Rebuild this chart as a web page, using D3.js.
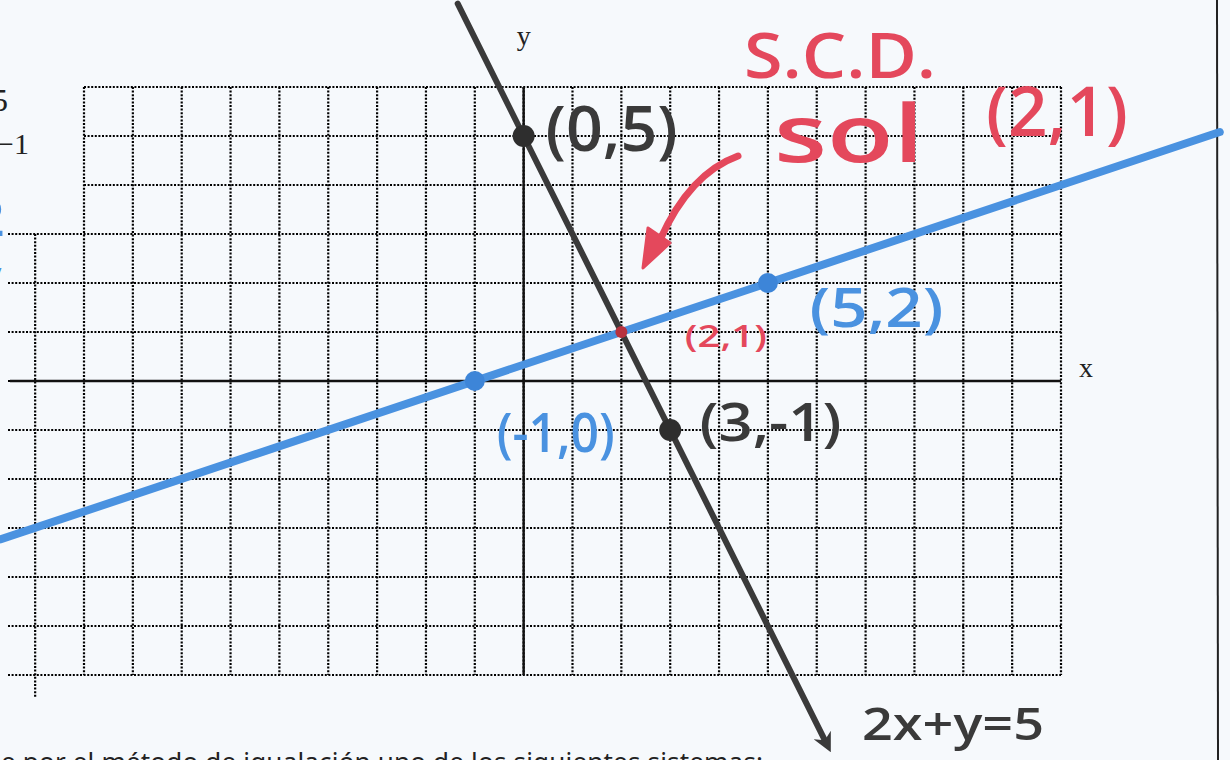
<!DOCTYPE html>
<html lang="es">
<head>
<meta charset="utf-8"/>
<style>
body { margin: 0; background: #f6f9fc; }
svg { display: block; }
.hand { font-family: "Open Sans", sans-serif; font-weight: 600; }
.serif { font-family: "Liberation Serif", "DejaVu Serif", serif; fill: #222; }
</style>
</head>
<body>
<svg width="1230" height="760"></svg>
<script src="https://d3js.org/d3.v7.min.js"></script>
<script>

// grid range (units)
var xMin = -9, xMax = 11, yMin = -6, yMax = 6;

// 2x + y = 5 (black) and the line through (-1,0),(5,2) (blue)
var blackLine = [[-1.35, 7.7], [6.2, -7.4]];
var blueLine = [[-10.7, -3.23], [14.25, 5.08]];
var blackPoints = [[0, 5], [3, -1]];
var bluePoints = [[-1, 0], [5, 2]];
var solution = [2, 1];

var blackLabels = ["(0,5)", "(3,-1)"];
var blueLabels = ["(-1,0)", "(5,2)"];

var svg = d3.select("svg");

var x = d3.scaleLinear().domain([xMin, xMax]).range([84, 1061]);
var y = d3.scaleLinear().domain([yMin, yMax]).range([675, 87]);

var ink = "#3a3a3a", blue = "#4a92e0", red = "#e4485c";

// ---- dotted grid
var grid = svg.append("g")
  .attr("stroke", "#000")
  .attr("stroke-width", 2.2)
  .attr("stroke-dasharray", "2,1.6");

var xs = d3.range(xMin, xMax + 1), ys = d3.range(yMin, yMax + 1);

grid.selectAll(".v").data(xs).enter().append("line")
  .attr("x1", x).attr("x2", x)
  .attr("y1", y(yMax)).attr("y2", y(yMin));

grid.selectAll(".h").data(ys).enter().append("line")
  // the lower rows run on into a second sheet at the left edge
  .attr("x1", function(d) { return d <= 3 ? 8 : x(xMin); })
  .attr("x2", x(xMax))
  .attr("y1", y).attr("y2", y);

// the stray column at the left edge
grid.append("line")
  .attr("x1", x(-10)).attr("x2", x(-10))
  .attr("y1", y(3)).attr("y2", y(-6.47));

// ---- axes
svg.append("line")
  .attr("x1", 10).attr("x2", x(xMax))
  .attr("y1", y(0)).attr("y2", y(0))
  .attr("stroke", "#111").attr("stroke-width", 2.4);
svg.append("line")
  .attr("x1", x(0)).attr("x2", x(0))
  .attr("y1", y(yMax)).attr("y2", y(yMin))
  .attr("stroke", "#111").attr("stroke-width", 2.4);

svg.append("text").attr("class", "serif").attr("font-size", 28)
  .attr("x", x(0) - 7).attr("y", 45).text("y");
svg.append("text").attr("class", "serif").attr("font-size", 28)
  .attr("x", 1079).attr("y", 377).text("x");

// bits of the printed page around the grid
svg.append("text").attr("class", "serif").attr("font-size", 32)
  .attr("x", -8).attr("y", 111).text("5");
svg.append("text").attr("class", "serif").attr("font-size", 30)
  .attr("x", -3).attr("y", 154).text("−1");
svg.append("line")
  .attr("x1", 1217).attr("x2", 1218).attr("y1", 0).attr("y2", 760)
  .attr("stroke", "#222").attr("stroke-width", 2);
svg.append("text")
  .attr("font-family", "Noto Sans, sans-serif").attr("font-size", 26)
  .attr("fill", "#222")
  .attr("x", 1).attr("y", 771)
  .attr("textLength", 762)
  .text("e por el método de igualación uno de los siguientes sistemas:");

// blue scribbles cut off at the left margin
svg.append("text").attr("class", "hand").attr("font-size", 50)
  .attr("fill", blue).attr("x", -24).attr("y", 236).text("2");
svg.append("text").attr("class", "hand").attr("font-size", 40)
  .attr("fill", blue).attr("x", -20).attr("y", 290).text("y");

// ---- lines
var line = d3.line().x(function(d) { return x(d[0]); }).y(function(d) { return y(d[1]); });

svg.append("defs").append("marker")
  .attr("id", "arrow").attr("viewBox", "0 0 10 10")
  .attr("refX", 5).attr("refY", 5)
  .attr("markerWidth", 3.2).attr("markerHeight", 3.2)
  .attr("orient", "auto")
  .append("path").attr("d", "M0,0 L10,5 L0,10 L3,5 Z").attr("fill", ink);

svg.append("path").datum(blueLine)
  .attr("d", line).attr("fill", "none")
  .attr("stroke", blue).attr("stroke-width", 8).attr("stroke-linecap", "round");

svg.append("path").datum(blackLine)
  .attr("d", line).attr("fill", "none")
  .attr("stroke", ink).attr("stroke-width", 6).attr("stroke-linecap", "round")
  .attr("marker-end", "url(#arrow)");

// ---- points
svg.selectAll(".bp").data(bluePoints).enter().append("circle")
  .attr("cx", function(d) { return x(d[0]); })
  .attr("cy", function(d) { return y(d[1]); })
  .attr("r", 10).attr("fill", "#3d85d8");

svg.selectAll(".kp").data(blackPoints).enter().append("circle")
  .attr("cx", function(d) { return x(d[0]); })
  .attr("cy", function(d) { return y(d[1]); })
  .attr("r", 11).attr("fill", "#2e2e2e");

svg.append("circle")
  .attr("cx", x(solution[0])).attr("cy", y(solution[1]))
  .attr("r", 6).attr("fill", "#b8323f");

// ---- handwritten labels
svg.selectAll(".kl").data(blackLabels).enter().append("text")
  .attr("class", "hand").attr("fill", ink)
  .attr("font-size", function(d, i) { return i ? 52 : 64; })
  .attr("x", function(d, i) { return i ? x(3.6) : x(0.45); })
  .attr("y", function(d, i) { return i ? y(-1.22) : y(4.7); })
  .attr("textLength", function(d, i) { return i ? 142 : 132; })
  .attr("lengthAdjust", "spacingAndGlyphs")
  .text(function(d) { return d; });

svg.selectAll(".bl").data(blueLabels).enter().append("text")
  .attr("class", "hand").attr("fill", blue)
  .attr("font-size", 54)
  .attr("x", function(d, i) { return i ? x(5.85) : x(-0.55); })
  .attr("y", function(d, i) { return i ? y(1.1) : y(-1.45); })
  .attr("textLength", function(d, i) { return i ? 134 : 118; })
  .attr("lengthAdjust", "spacingAndGlyphs")
  .text(function(d) { return d; });

svg.append("text").attr("class", "hand").attr("fill", red)
  .attr("font-size", 30).attr("font-weight", 400)
  .attr("x", x(3.3)).attr("y", y(0.7)).attr("textLength", 82)
  .attr("lengthAdjust", "spacingAndGlyphs")
  .text("(2,1)");

svg.append("text").attr("class", "hand").attr("fill", red)
  .attr("font-size", 64)
  .attr("x", 744).attr("y", 78).attr("textLength", 192)
  .attr("lengthAdjust", "spacingAndGlyphs")
  .text("S.C.D.");
svg.append("text").attr("class", "hand").attr("fill", red)
  .attr("font-size", 80)
  .attr("x", 774).attr("y", 162).attr("textLength", 150)
  .attr("lengthAdjust", "spacingAndGlyphs")
  .text("sol");
svg.append("text").attr("class", "hand").attr("fill", red)
  .attr("font-size", 68)
  .attr("x", 986).attr("y", 136).attr("textLength", 142)
  .attr("lengthAdjust", "spacingAndGlyphs")
  .text("(2,1)");

// red arrow pointing at the solution
svg.append("path")
  .attr("d", "M738,156 C705,168 680,195 660,240")
  .attr("fill", "none").attr("stroke", red).attr("stroke-width", 7)
  .attr("stroke-linecap", "round");
svg.append("path")
  .attr("d", "M648,228 L670,243 L643,268 Z")
  .attr("fill", red).attr("stroke", red).attr("stroke-width", 3)
  .attr("stroke-linejoin", "round");

svg.append("text").attr("class", "hand").attr("fill", ink)
  .attr("font-size", 46)
  .attr("x", 862).attr("y", 740).attr("textLength", 182)
  .attr("lengthAdjust", "spacingAndGlyphs")
  .text("2x+y=5");

</script>
</body>
</html>
